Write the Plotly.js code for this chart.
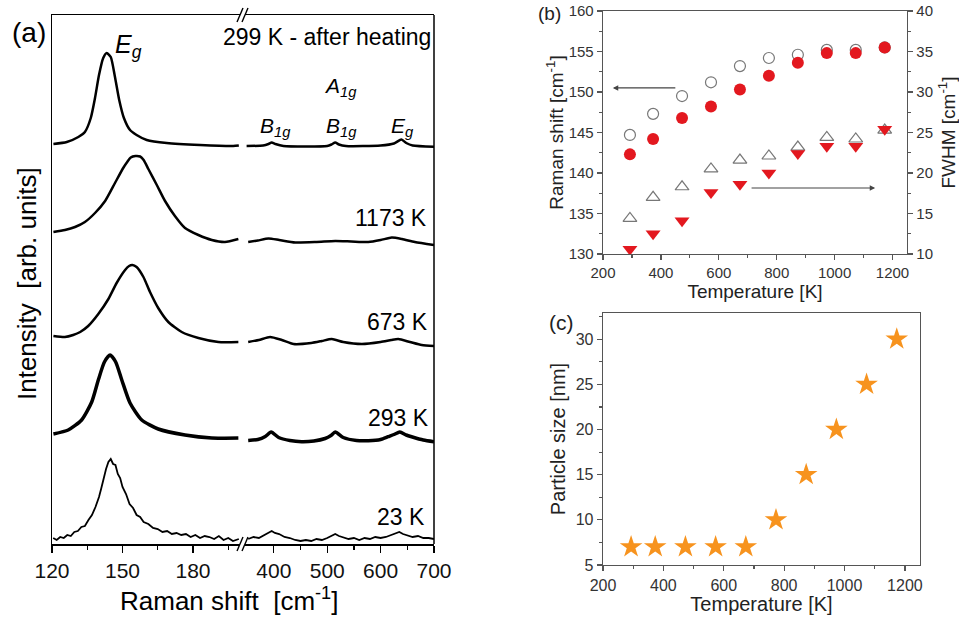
<!DOCTYPE html>
<html>
<head>
<meta charset="utf-8">
<script src="https://cdn.plot.ly/plotly-3.0.1.min.js"></script>
<style>html,body{margin:0;padding:0;background:#fff;}#chart{width:959px;height:620px;}</style>
</head>
<body>
<div id="chart"></div>
<script>
// ---------- Panel (a): Raman spectra (x in cm^-1, intensity in arb. units, offset stacked) ----------
const s299L_x = [120.6,126.3,131.2,134.0,136.5,138.3,140.0,141.8,143.3,145.0,146.8,148.6,150.6,153.2,156.0,160.3,168.8,183.0,197.1,199.5];
const s299L_y = [400,402,407,412,426,446,469,486,491,487,467,444,426,414,409,404,401,399,398,398.5];
const s299R_x = [349,380,390,396,403,418,500,508,515,522,535,600,625,639,648,660,700];
const s299R_y = [398,398.5,400,401.5,400,398,398,399.5,401.5,399.5,398,398.5,400.5,404.5,401,398.5,397.3];

const s1173L_x = [120.6,125.5,129.8,134.0,138.3,142.6,146.8,150.3,152.0,153.5,155.5,157.5,159.0,161.0,164.6,168.1,172.3,176.6,182.3,188.0,193.6,199.3];
const s1173L_y = [312,314,317,322,331,343,361,376,382,386.5,388,387.5,384,375,359,343,328,316,309,304,302,305];
const s1173R_x = [352,370,390,410,440,480,515,545,577,600,621,640,664,700];
const s1173R_y = [302,303.5,305.5,304,301.5,302,303,302.5,302,304,306.5,305,302,299];

const s673L_x = [120.6,125.5,129.0,132.0,135.4,139.7,144.0,147.5,151.1,152.8,154.2,156.0,158.9,161.7,165.2,169.5,175.2,182.3,190.8,199.3];
const s673L_y = [208,207,209,212,218,230,245,261,274,278,279,277,267,252,236,222,212,206,202,202];
const s673R_x = [352,372,393,415,437,470,490,508.5,530,565,600,620,633,655,677,700];
const s673R_y = [202,204,207,204,200,201,203,205,202,200,202,204,205,202,199,198];

const s293L_x = [120.6,126.9,132.6,136.9,139.7,142.3,144.7,147.1,149.7,153.2,158.2,165.2,176.6,188.0,199.3];
const s293L_y = [110,114,124,142,164,182,189,182,164,141,124,115,109,106,106];
const s293R_x = [352,370,384,395,409,430,452,475,496,507,515,530,555,577,600,614,625,636,648,658,680,700];
const s293R_y = [103.5,104.5,107.5,112,106.5,103.5,102.3,103,105.5,108.5,112,106.5,103.5,103.3,104.5,107.3,109.5,112,109,107.3,104,102.3];

const s23L_x = [120.5,122,123.5,125,126.5,128,129.5,131,132.5,134,135.5,137,138.5,140,141,142,143,144,145,146,147,148,149,150,151.5,153,154.5,156,157.5,159,161,163,165,167,169,171,173,175,177,179,181,183,185,187,189,191,193,195,197,199.5];
const s23L_y = [6,4,7,6,9,8,12,13,17,18,24,29,37,47,56,66,75,82,85,80,79,70,66,57,50,40,36,29,27,22,20,16,15,12,13,10,11,9,10,7,9,6,8,7,5,8,4,6,3,5];
const s23R_x = [352,362,372,382,390,396,402,410,420,430,440,450,460,470,480,490,500,508,515,522,530,540,550,560,570,580,590,600,610,620,628,635,642,650,660,670,680,690,700];
const s23R_y = [5,7,6,9,11,13,11,10,7,6,4,3,4,3,5,4,6,8,10,8,7,5,6,4,6,5,7,6,7,9,10,12,10,9,7,8,6,6,5];

const leftTicks = [120,150,180];
const rightTicks = [400,500,600,700];

// ---------- Panel (b) & (c) ----------
const temperature = [293,373,473,573,673,773,873,973,1073,1173];
const ramanOpen = [144.7,147.3,149.5,151.2,153.2,154.2,154.6,155.2,155.2,155.5];
const ramanRed  = [142.3,144.2,146.8,148.2,150.3,152.0,153.6,154.8,154.8,155.5];
const fwhmOpen  = [14.4,17.0,18.3,20.5,21.6,22.1,23.2,24.4,24.2,25.3];
const fwhmRed   = [10.6,12.5,14.1,17.6,18.6,20.0,22.4,23.3,23.3,25.4];
const particleSize = [7,7,7,7,7,10,15,20,25,30];

const FONT = 'Liberation Sans, Arial, Helvetica, sans-serif';
const W = 959, H = 620;
const px = v => v / W;
const py = v => 1 - v / H;

function spec(x, y, xa, w, shape) {
  return {x: x, y: y, xaxis: xa, yaxis: 'y', type: 'scatter', mode: 'lines',
          line: {color: '#000', width: w, shape: shape || 'spline', smoothing: 0.6},
          hoverinfo: 'skip'};
}

const traces = [
  spec(s299L_x, s299L_y, 'x', 2.5), spec(s299R_x, s299R_y, 'x2', 2.5),
  spec(s1173L_x, s1173L_y, 'x', 2.5), spec(s1173R_x, s1173R_y, 'x2', 2.5),
  spec(s673L_x, s673L_y, 'x', 2.5), spec(s673R_x, s673R_y, 'x2', 2.5),
  spec(s293L_x, s293L_y, 'x', 3.5), spec(s293R_x, s293R_y, 'x2', 3.5),
  spec(s23L_x, s23L_y, 'x', 1.8, 'linear'), spec(s23R_x, s23R_y, 'x2', 1.8, 'linear'),
  {x: temperature, y: ramanOpen, xaxis: 'x3', yaxis: 'y3', type: 'scatter', mode: 'markers',
   marker: {symbol: 'circle-open', size: 11, color: '#777', line: {width: 1.2, color: '#777'}}},
  {x: temperature, y: ramanRed, xaxis: 'x3', yaxis: 'y3', type: 'scatter', mode: 'markers',
   marker: {symbol: 'circle', size: 12, color: '#e3181f'}},
  {x: temperature, y: fwhmOpen, xaxis: 'x3', yaxis: 'y4', type: 'scatter', mode: 'markers',
   marker: {symbol: 'triangle-up-open', size: 12, color: '#777', line: {width: 1.2, color: '#777'}}},
  {x: temperature, y: fwhmRed, xaxis: 'x3', yaxis: 'y4', type: 'scatter', mode: 'markers',
   marker: {symbol: 'triangle-down', size: 13, color: '#e3181f'}},
  {x: temperature, y: particleSize, xaxis: 'x5', yaxis: 'y5', type: 'scatter', mode: 'markers',
   marker: {symbol: 'star', size: 17, color: '#f7931e', line: {width: 0}}}
];

const axA = {showgrid: false, zeroline: false, showline: true, linecolor: '#000', linewidth: 1.5,
             mirror: true, ticks: 'outside', ticklen: 7, tickwidth: 1.3, tickcolor: '#000',
             tickfont: {family: FONT, size: 21, color: '#111'}};
const axG = {showgrid: false, zeroline: false, showline: true, linecolor: '#555', linewidth: 1.3,
             ticks: 'outside', ticklen: 5, tickwidth: 1.2, tickcolor: '#555',
             tickfont: {family: FONT, size: 15, color: '#333'}};

const layout = {
  width: W, height: H, margin: {l: 0, r: 0, t: 0, b: 0},
  paper_bgcolor: '#fff', plot_bgcolor: 'rgba(0,0,0,0)', showlegend: false,
  font: {family: FONT, color: '#000'},
  xaxis: Object.assign({}, axA, {domain: [px(52), px(240)], range: [120, 200], anchor: 'y',
          tickmode: 'array', tickvals: leftTicks,
          minor: {tickvals: [135,165,195], ticks: 'outside', ticklen: 4, tickwidth: 1.2, tickcolor: '#000'}}),
  xaxis2: Object.assign({}, axA, {domain: [px(245), px(434)], range: [346, 700], anchor: 'y',
          tickmode: 'array', tickvals: rightTicks,
          minor: {tickvals: [450,550,650], ticks: 'outside', ticklen: 4, tickwidth: 1.2, tickcolor: '#000'}}),
  yaxis: {domain: [py(544), py(15)], range: [0, 529], anchor: 'x', showgrid: false, zeroline: false,
          showline: true, linecolor: '#000', linewidth: 1.5, showticklabels: false, ticks: ''},
  xaxis3: Object.assign({}, axG, {domain: [px(603), px(907)], range: [200, 1250], anchor: 'y3',
          tick0: 200, dtick: 200, mirror: true,
          minor: {dtick: 100, ticks: 'outside', ticklen: 3, tickcolor: '#555'},
          title: {text: 'Temperature [K]', font: {family: FONT, size: 19, color: '#222'}, standoff: 2}}),
  yaxis3: Object.assign({}, axG, {domain: [py(254), py(11)], range: [130, 160], anchor: 'x3',
          tick0: 130, dtick: 5,
          minor: {dtick: 2.5, ticks: 'outside', ticklen: 3, tickcolor: '#555'},
          title: {text: 'Raman shift [cm<sup>-1</sup>]', font: {family: FONT, size: 19, color: '#222'}, standoff: 0}}),
  yaxis4: Object.assign({}, axG, {range: [10, 40], anchor: 'x3', overlaying: 'y3', side: 'right',
          tick0: 10, dtick: 5,
          minor: {dtick: 2.5, ticks: 'outside', ticklen: 3, tickcolor: '#555'},
          title: {text: 'FWHM [cm<sup>-1</sup>]', font: {family: FONT, size: 19, color: '#222'}, standoff: 14}}),
  xaxis5: Object.assign({}, axG, {domain: [px(603), px(920)], range: [200, 1250], anchor: 'y5',
          tick0: 200, dtick: 200, mirror: true, tickfont: {family: FONT, size: 16, color: '#333'},
          minor: {dtick: 100, ticks: 'outside', ticklen: 3, tickcolor: '#555'},
          title: {text: 'Temperature [K]', font: {family: FONT, size: 20, color: '#222'}, standoff: 4}}),
  yaxis5: Object.assign({}, axG, {domain: [py(565), py(313)], range: [5, 32.9], anchor: 'x5',
          tick0: 5, dtick: 5, mirror: true, tickfont: {family: FONT, size: 16, color: '#333'},
          minor: {dtick: 2.5, ticks: 'outside', ticklen: 3, tickcolor: '#555'},
          title: {text: 'Particle size [nm]', font: {family: FONT, size: 20, color: '#222'}, standoff: 4}}),
  shapes: [
    {type: 'line', xref: 'paper', yref: 'paper', x0: px(434), x1: px(434), y0: py(544), y1: py(15), line: {color: '#000', width: 1.5}},
    {type: 'line', xref: 'paper', yref: 'paper', x0: px(237), x1: px(243), y0: py(551), y1: py(537), line: {color: '#000', width: 1.4}},
    {type: 'line', xref: 'paper', yref: 'paper', x0: px(242), x1: px(248), y0: py(551), y1: py(537), line: {color: '#000', width: 1.4}},
    {type: 'line', xref: 'paper', yref: 'paper', x0: px(237), x1: px(243), y0: py(22), y1: py(8), line: {color: '#000', width: 1.4}},
    {type: 'line', xref: 'paper', yref: 'paper', x0: px(242), x1: px(248), y0: py(22), y1: py(8), line: {color: '#000', width: 1.4}}
  ],
  annotations: []
};

function ann(text, x, y, size, opts) {
  return Object.assign({text: text, xref: 'paper', yref: 'paper', x: px(x), y: py(y), showarrow: false,
    xanchor: 'center', yanchor: 'middle', font: {family: FONT, size: size, color: '#000'}}, opts || {});
}

layout.annotations.push(
  ann('(a)', 29, 32, 28),
  ann('<i>E<sub>g</sub></i>', 128, 46, 25),
  ann('299 K - after heating', 433, 37, 23, {xanchor: 'right'}),
  ann('<i>A<sub>1g</sub></i>', 340, 87, 21),
  ann('<i>B<sub>1g</sub></i>', 275, 127, 21),
  ann('<i>B<sub>1g</sub></i>', 341, 127, 21),
  ann('<i>E<sub>g</sub></i>', 402, 127, 21),
  ann('1173 K', 429, 218, 23, {xanchor: 'right'}),
  ann('673 K', 430, 322, 23, {xanchor: 'right'}),
  ann('293 K', 431, 418, 23, {xanchor: 'right'}),
  ann('23 K', 427, 517, 23, {xanchor: 'right'}),
  ann('Raman shift  [cm<sup>-1</sup>]', 229, 599, 26),
  ann('Intensity  [arb. units]', 27, 284, 26, {textangle: -90}),
  ann('(b)', 549, 13, 19, {font: {family: FONT, size: 19, color: '#222'}}),
  ann('(c)', 561, 322, 21, {font: {family: FONT, size: 21, color: '#222'}}),
  {text: '', xref: 'x3', yref: 'y3', x: 234, y: 150.5, axref: 'x3', ayref: 'y3', ax: 455, ay: 150.5,
   showarrow: true, arrowhead: 2, arrowsize: 0.9, arrowwidth: 1.2, arrowcolor: '#444'},
  {text: '', xref: 'x3', yref: 'y4', x: 1140, y: 18.15, axref: 'x3', ayref: 'y4', ax: 708, ay: 18.15,
   showarrow: true, arrowhead: 2, arrowsize: 0.9, arrowwidth: 1.2, arrowcolor: '#444'}
);

Plotly.newPlot('chart', traces, layout, {staticPlot: true, displayModeBar: false});
</script>
</body>
</html>
